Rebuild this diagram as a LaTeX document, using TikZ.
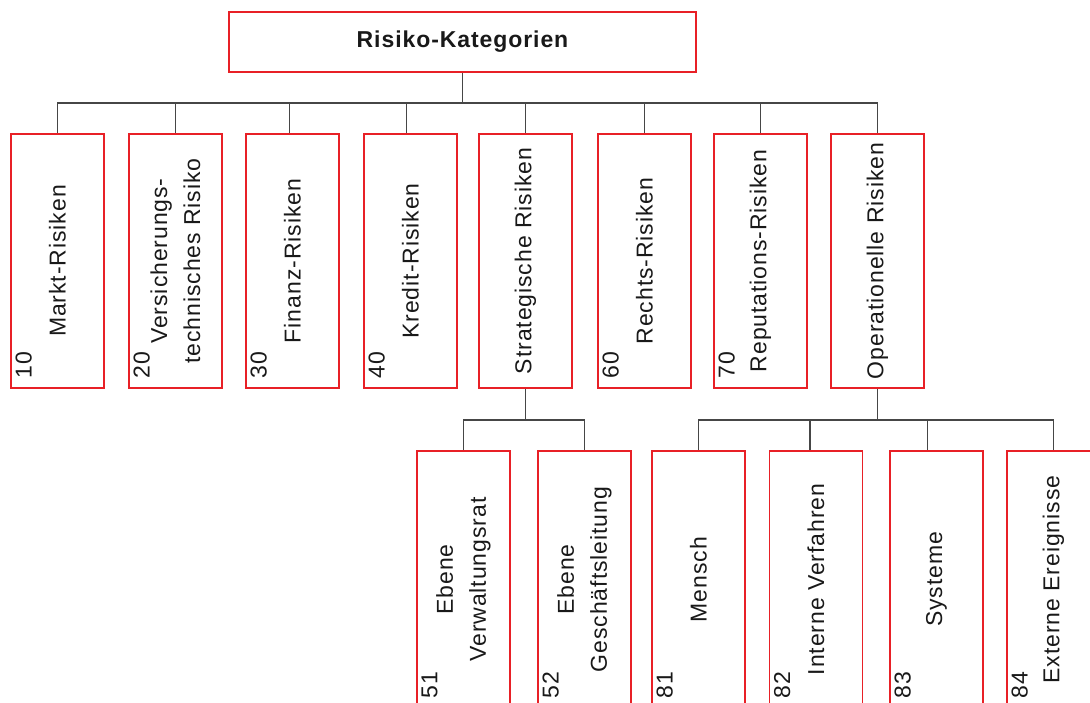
\documentclass[tikz,border=0pt]{standalone}
\usepackage{fontspec}
\setmainfont{Liberation Sans}
\newfontfamily\lblfont[LetterSpace=4]{Liberation Sans}
\definecolor{boxred}{RGB}{232,32,38}
\definecolor{linegray}{RGB}{70,70,70}
\definecolor{txt}{RGB}{25,25,25}
\pgfdeclarelayer{bg}
\pgfsetlayers{bg,main}
\begin{document}
\begin{tikzpicture}[x=1pt,y=1pt,
  rbox/.style={draw=boxred, line width=1.3pt, fill=white, minimum width=93pt, inner sep=0pt},
  lvlone/.style={rbox, minimum height=254pt},
  lvltwo/.style={rbox, minimum height=257pt},
  lbl/.style={rotate=90, align=center, text=txt, inner sep=0pt, font=\lblfont\fontsize{23}{33}\selectfont},
  num/.style={rotate=90, anchor=north west, inner xsep=10pt, inner ysep=5pt, text=txt, font=\lblfont\fontsize{23}{27}\selectfont},
  conn/.style={draw=linegray, line width=1.6pt, line cap=rect}]
\useasboundingbox (0,0) rectangle (1090,702);
\clip (0,0) rectangle (1090,702);
% title
\node[draw=boxred, line width=1.3pt, fill=white, minimum width=467pt, minimum height=60pt, text=txt,
      font=\lblfont\bfseries\fontsize{23}{27}\selectfont] (top) at (462.5,660) {Risiko-Kategorien};
% level 1
\node[lvlone] (m1) at (57.5,441) {};
\node[lvlone] (m2) at (175.5,441) {};
\node[lvlone] (m3) at (292.5,441) {};
\node[lvlone] (m4) at (410.5,441) {};
\node[lvlone] (m5) at (525.5,441) {};
\node[lvlone] (m6) at (644.5,441) {};
\node[lvlone] (m7) at (760.5,441) {};
\node[lvlone] (m8) at (877.5,441) {};
% level 2
\node[lvltwo] (s1) at (463.5,122.5) {};
\node[lvltwo] (s2) at (584.5,122.5) {};
\node[lvltwo] (o1) at (698.5,122.5) {};
\node[lvltwo] (o2) at (816,122.5) {};
\node[lvltwo] (o3) at (936.5,122.5) {};
\node[lvltwo] (o4) at (1053.5,122.5) {};
% labels
\node[lbl] (t1) at (m1.center) {Markt-Risiken};
\node[lbl] (t2) at (m2.center) {Versicherungs-\\technisches Risiko};
\node[lbl] (t3) at (m3.center) {Finanz-Risiken};
\node[lbl] (t4) at (m4.center) {Kredit-Risiken};
\node[lbl] (t5) at (m5.center) {Strategische Risiken};
\node[lbl] (t6) at (m6.center) {Rechts-Risiken};
\node[lbl] (t7) at (m7.center) {Reputations-Risiken};
\node[lbl] (t8) at (m8.center) {Operationelle Risiken};
\node[lbl] (u1) at (s1.center) {Ebene\\Verwaltungsrat};
\node[lbl] (u2) at (s2.center) {Ebene\\Geschäftsleitung};
\node[lbl] (v1) at (o1.center) {Mensch};
\node[lbl] (v2) at (o2.center) {Interne Verfahren};
\node[lbl] (v3) at (o3.center) {Systeme};
\node[lbl] (v4) at (o4.center) {Externe Ereignisse};
% numbers
\node[num] (n1) at (m1.south west) {10};
\node[num] (n2) at (m2.south west) {20};
\node[num] (n3) at (m3.south west) {30};
\node[num] (n4) at (m4.south west) {40};
\node[num] (n6) at (m6.south west) {60};
\node[num] (n7) at (m7.south west) {70};
\node[num] (k1) at (s1.south west) {51};
\node[num] (k2) at (s2.south west) {52};
\node[num] (p1) at (o1.south west) {81};
\node[num] (p2) at (o2.south west) {82};
\node[num] (p3) at (o3.south west) {83};
\node[num] (p4) at (o4.south west) {84};
% connectors
\coordinate (bus1) at (0,599);
\coordinate (bus2) at (0,282);
\begin{pgfonlayer}{bg}
\draw[conn] (top.south) -- (top.south |- bus1);
\draw[conn] (m1.north |- bus1) -- (m8.north |- bus1);
\foreach \c/\d in {m1/0,m2/0,m3/-3,m4/-4,m5/0,m6/0,m7/0,m8/0}
  \draw[conn] ([xshift=\d pt]\c.north) -- ([xshift=\d pt]\c.north |- bus1);
\draw[conn] (m5.south) -- (m5.south |- bus2);
\draw[conn] (s1.north |- bus2) -- (s2.north |- bus2);
\foreach \c/\d in {s1/0,s2/0}
  \draw[conn] ([xshift=\d pt]\c.north) -- ([xshift=\d pt]\c.north |- bus2);
\draw[conn] (m8.south) -- (m8.south |- bus2);
\draw[conn] (o1.north |- bus2) -- (o4.north |- bus2);
\foreach \c/\d in {o1/0,o2/-6,o3/-9,o4/0}
  \draw[conn] ([xshift=\d pt]\c.north) -- ([xshift=\d pt]\c.north |- bus2);
\end{pgfonlayer}
\end{tikzpicture}
\end{document}
